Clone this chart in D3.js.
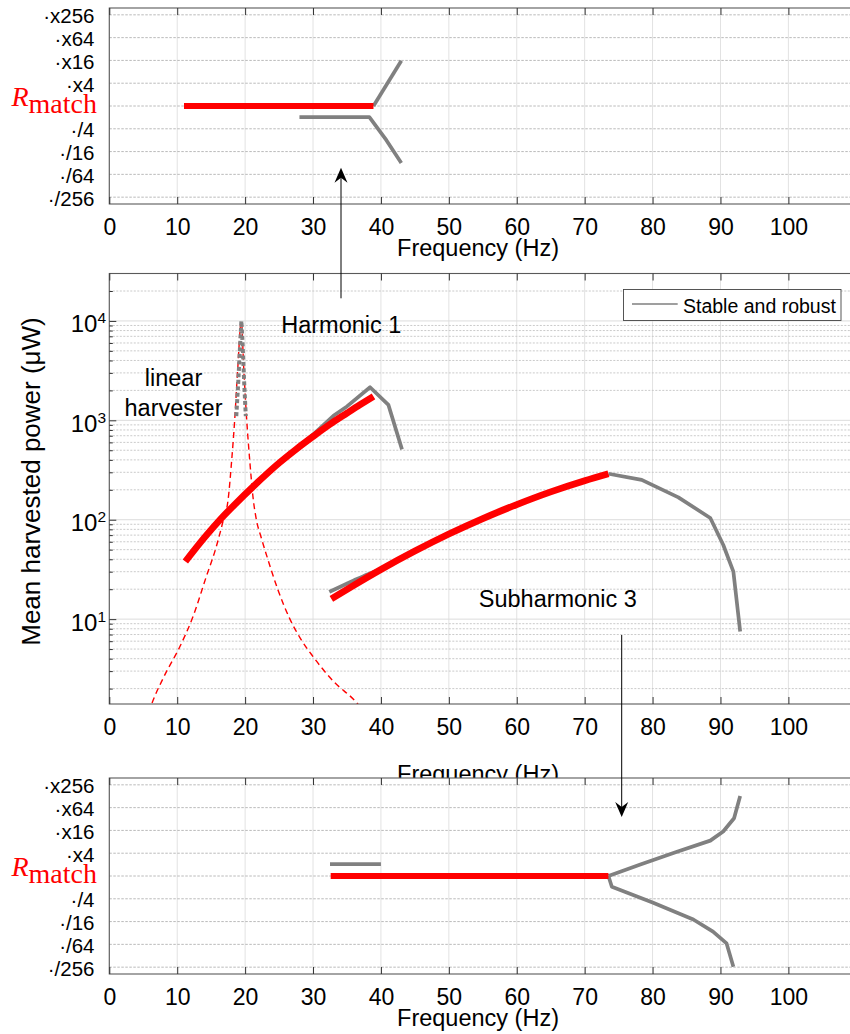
<!DOCTYPE html>
<html><head><meta charset="utf-8">
<script src="https://cdn.jsdelivr.net/npm/d3@7"></script>
<style>
body{margin:0;background:#fff}
svg{display:block}
text{font-family:"Liberation Sans",Arial,Helvetica,sans-serif;fill:#000}
</style>
</head><body>
<svg id="c" width="850" height="1034"></svg>
<script>
// ---------- tick values / labels ----------
const freqTicks = [0,10,20,30,40,50,60,70,80,90,100];
const ratioTicks = [256,64,16,4,1,1/4,1/16,1/64,1/256];
const ratioTickLabels = ["·x256","·x64","·x16","·x4","Rmatch","·/4","·/16","·/64","·/256"];
const powerTicks = [10,100,1000,10000];
const powerTickExp = ["1","2","3","4"];

// ---------- middle panel: mean harvested power (µW) ----------
const linearF = [5.8,6.24,8,10.4,12.3,14.3,15.7,16.8,17.5,18.0,18.5,18.9,19.45,19.8,20.2,20.7,21.2,21.6,22.4,23.2,24.8,26.6,28.2,30,33,36.2,37];
const linearP = [1.15,1.4,2.6,5.3,10.5,27,52,100,160,380,1100,3200,10000,3300,1100,380,160,105,65,43,20,10,6.3,4.2,2.37,1.5,1.3];
const linearPeakF = [18.7,19.0,19.25,19.45,19.65,19.85,20.1];
const linearPeakP = [1100,2500,5500,10000,5500,2500,1100];

const harm1RedF = [11.2,14,16.3,18.5,21.2,25,27.5,30,32.5,35,37,38.9];
const harm1RedP = [38,66,100,143,216,372,511,687,912,1180,1445,1740];
const harm1GrayF = [28,30,33,35,38.4,41.1,43.1];
const harm1GrayP = [550,720,1110,1380,2150,1430,510];

const sub3RedF = [32.7,36,40,45,50,55,60,65,70,73.5];
const sub3RedP = [16,21.9,31.6,48.4,71.8,102.8,142,190.6,246.7,290];
const sub3GrayLowF = [32.4,36,38,40];
const sub3GrayLowP = [18.8,24.5,28.2,31.8];
const sub3GrayHighF = [73.5,78.4,83.8,88.5,90.4,91.9,92.9];
const sub3GrayHighP = [290,252,168,104,56,30,7.5];

// ---------- top panel: load ratio, Harmonic 1 ----------
const h1RatioRedF = [11,38.9];
const h1RatioRedR = [1,1];
const h1RatioUpF = [38.9,43];
const h1RatioUpR = [1,15.6];
const h1RatioLowF = [28,38.3,40.8,43];
const h1RatioLowR = [0.51,0.51,0.125,0.031];

// ---------- bottom panel: load ratio, Subharmonic 3 ----------
const s3RatioRedF = [32.6,73.5];
const s3RatioRedR = [1,1];
const s3RatioShortF = [32.5,40];
const s3RatioShortR = [2.07,2.07];
const s3RatioUpF = [73.5,78.2,83.6,88.5,90.4,92.0,92.9];
const s3RatioUpR = [1,2,4.4,8.6,15,33.6,130];
const s3RatioLowF = [73.5,74.0,80,86.0,88.9,90.9,91.9];
const s3RatioLowR = [1,0.52,0.2,0.071,0.034,0.0165,0.004];

// ---------- layout ----------
const svg = d3.select("#c");
const X0 = 109.3, X1 = 856.3;
const x = d3.scaleLinear().domain([0,110]).range([X0,X1]);
const RED = "#ff0000", GRAY = "#808080";
const AX = "#5a5a5a";

const panels = {
  top: {y0:8, y1:204},
  mid: {y0:273.5, y1:704},
  bot: {y0:778, y1:974}
};
const yTop = d3.scaleLog().base(2).domain([Math.pow(2,-8.6),Math.pow(2,8.6)]).range([panels.top.y1,panels.top.y0]);
const yBot = d3.scaleLog().base(2).domain([Math.pow(2,-8.6),Math.pow(2,8.6)]).range([panels.bot.y1,panels.bot.y0]);
const yMid = d3.scaleLog().domain([1.4,30000]).range([panels.mid.y1,panels.mid.y0]);

const defs = svg.append("defs");
function clip(id,p){
  defs.append("clipPath").attr("id",id).append("rect")
    .attr("x",X0).attr("y",p.y0).attr("width",X1-X0).attr("height",p.y1-p.y0);
}
clip("cTop",panels.top); clip("cMid",panels.mid); clip("cBot",panels.bot);

function series(g, xs, ys, yScale, opts){
  const line = d3.line().x(d=>x(d[0])).y(d=>yScale(d[1]));
  if(opts.smooth) line.curve(d3.curveMonotoneX);
  g.append("path").datum(d3.zip(xs,ys)).attr("d",line)
    .attr("fill","none").attr("stroke",opts.color).attr("stroke-width",opts.w)
    .attr("stroke-dasharray",opts.dash||null)
    .attr("stroke-linejoin","round").attr("stroke-linecap",opts.cap||"butt");
}

function frame(p){
  const g = svg.append("g");
  g.append("rect").attr("x",X0).attr("y",p.y0).attr("width",X1-X0).attr("height",p.y1-p.y0).attr("fill","#fff");
  g.selectAll(".vg").data(freqTicks).enter().append("line")
    .attr("x1",d=>x(d)).attr("x2",d=>x(d)).attr("y1",p.y0).attr("y2",p.y1)
    .attr("stroke","#e2e2e2").attr("stroke-width",1);
  return g;
}
function box(g,p){
  g.append("rect").attr("x",X0).attr("y",p.y0).attr("width",X1-X0).attr("height",p.y1-p.y0)
    .attr("fill","none").attr("stroke",AX).attr("stroke-width",1.1);
  const ax = d3.axisBottom(x).tickValues(freqTicks).tickSize(-7).tickPadding(14.5).tickFormat(d3.format("d"));
  const a = g.append("g").attr("transform",`translate(0,${p.y1})`).call(ax);
  a.select(".domain").remove();
  a.selectAll(".tick line").attr("stroke","#333");
  a.selectAll(".tick text").attr("font-size",23).style("font-family",'"Liberation Sans",Arial,sans-serif').attr("fill","#000");
  const at = d3.axisTop(x).tickValues(freqTicks).tickSize(-7).tickFormat("");
  const b = g.append("g").attr("transform",`translate(0,${p.y0})`).call(at);
  b.select(".domain").remove();
  b.selectAll(".tick line").attr("stroke","#333");
}

function ratioPanel(p, yS, clipId, draw){
  const g = frame(p);
  g.selectAll(".hg").data(ratioTicks).enter().append("line")
    .attr("x1",X0).attr("x2",X1).attr("y1",d=>yS(d)).attr("y2",d=>yS(d))
    .attr("stroke","#b2b2b2").attr("stroke-width",0.9).attr("stroke-dasharray","2.5,1.5");
  const dg = g.append("g").attr("clip-path",`url(#${clipId})`);
  draw(dg);
  box(g,p);
  ratioTicks.forEach((v,i)=>{
    if(ratioTickLabels[i]==="Rmatch"){
      const t = g.append("text").attr("x",97).attr("y",yS(v)).attr("text-anchor","end").attr("fill",RED);
      t.append("tspan").text("R").attr("font-size",28).attr("font-style","italic")
        .style("font-family",'"Liberation Serif","Times New Roman",serif').attr("fill",RED);
      t.append("tspan").text("match").attr("font-size",28).attr("dy",7)
        .style("font-family",'"Liberation Serif","Times New Roman",serif').attr("fill",RED);
    } else {
      g.append("text").attr("x",94.5).attr("y",yS(v)+8.6).attr("text-anchor","end")
        .attr("font-size",20.5).text(ratioTickLabels[i]);
    }
  });
  g.append("text").attr("x",478).attr("y",p.y1+52).attr("text-anchor","middle")
    .attr("font-size",23.5).text("Frequency (Hz)");
  return g;
}

// ---------- TOP PANEL ----------
ratioPanel(panels.top, yTop, "cTop", dg=>{
  series(dg,h1RatioUpF,h1RatioUpR,yTop,{color:GRAY,w:3.7});
  series(dg,h1RatioLowF,h1RatioLowR,yTop,{color:GRAY,w:3.7});
  series(dg,h1RatioRedF,h1RatioRedR,yTop,{color:RED,w:6});
});

// ---------- MIDDLE PANEL ----------
(function(){
  const p = panels.mid;
  const g = frame(p);
  const minor = [];
  for(let k=0;k<=4;k++) for(let m=2;m<=9;m++){ const v=m*Math.pow(10,k); if(v>1.4 && v<30000) minor.push(v); }
  g.selectAll(".mg").data(minor).enter().append("line")
    .attr("x1",X0).attr("x2",X1).attr("y1",d=>yMid(d)).attr("y2",d=>yMid(d))
    .attr("stroke","#c4c4c4").attr("stroke-width",0.9).attr("stroke-dasharray","2,1.5");
  g.selectAll(".Mg").data(powerTicks).enter().append("line")
    .attr("x1",X0).attr("x2",X1).attr("y1",d=>yMid(d)).attr("y2",d=>yMid(d))
    .attr("stroke","#dcdcdc").attr("stroke-width",1);
  const dg = g.append("g").attr("clip-path","url(#cMid)");
  series(dg,linearF,linearP,yMid,{color:RED,w:1.4,dash:"6,4",smooth:true});
  series(dg,linearPeakF,linearPeakP,yMid,{color:GRAY,w:4,dash:"4,2.5"});
  series(dg,harm1GrayF,harm1GrayP,yMid,{color:GRAY,w:3.7});
  series(dg,sub3GrayLowF,sub3GrayLowP,yMid,{color:GRAY,w:3.7,smooth:true});
  series(dg,sub3GrayHighF,sub3GrayHighP,yMid,{color:GRAY,w:3.7});
  series(dg,harm1RedF,harm1RedP,yMid,{color:RED,w:6.8,smooth:true});
  series(dg,sub3RedF,sub3RedP,yMid,{color:RED,w:6.8,smooth:true});
  box(g,p);
  const ay = d3.axisLeft(yMid).tickValues(powerTicks).tickSize(-7).tickFormat("");
  const a = g.append("g").attr("transform",`translate(${X0},0)`).call(ay);
  a.select(".domain").remove(); a.selectAll(".tick line").attr("stroke","#333");
  const am = d3.axisLeft(yMid).tickValues(minor).tickSize(-3.5).tickFormat("");
  const a2 = g.append("g").attr("transform",`translate(${X0},0)`).call(am);
  a2.select(".domain").remove(); a2.selectAll(".tick line").attr("stroke","#333");
  powerTicks.forEach((v,i)=>{
    const t = g.append("text").attr("x",106).attr("y",yMid(v)+11.5).attr("text-anchor","end").attr("font-size",24);
    t.append("tspan").text("10");
    t.append("tspan").attr("dy",-9).attr("font-size",15.5).text(powerTickExp[i]);
  });
  g.append("text").attr("transform","translate(39.5,481.5) rotate(-90)").attr("text-anchor","middle")
    .attr("font-size",26).text("Mean harvested power (μW)");
  g.append("text").attr("x",478).attr("y",782).attr("text-anchor","middle")
    .attr("font-size",23.5).text("Frequency (Hz)");
  const lg = g.append("g");
  lg.append("rect").attr("x",623.5).attr("y",289.5).attr("width",217.5).attr("height",31)
    .attr("fill","#fff").attr("stroke","#444").attr("stroke-width",0.9);
  lg.append("line").attr("x1",632).attr("x2",677.7).attr("y1",304).attr("y2",304)
    .attr("stroke","#404040").attr("stroke-width",1.1);
  lg.append("text").attr("x",683).attr("y",312.5).attr("font-size",19.5).text("Stable and robust");
  g.append("text").attr("x",341.3).attr("y",333.3).attr("text-anchor","middle").attr("font-size",23.5).text("Harmonic 1");
  g.append("text").attr("x",173.5).attr("y",385.7).attr("text-anchor","middle").attr("font-size",23.5).text("linear");
  g.append("text").attr("x",173.5).attr("y",415.7).attr("text-anchor","middle").attr("font-size",23.5).text("harvester");
  g.append("text").attr("x",557.8).attr("y",606.7).attr("text-anchor","middle").attr("font-size",23.5).text("Subharmonic 3");
})();

// ---------- BOTTOM PANEL ----------
ratioPanel(panels.bot, yBot, "cBot", dg=>{
  series(dg,s3RatioShortF,s3RatioShortR,yBot,{color:GRAY,w:3.7});
  series(dg,s3RatioUpF,s3RatioUpR,yBot,{color:GRAY,w:3.7});
  series(dg,s3RatioLowF,s3RatioLowR,yBot,{color:GRAY,w:3.7});
  series(dg,s3RatioRedF,s3RatioRedR,yBot,{color:RED,w:6});
});

// ---------- arrows ----------
function arrow(xa, yStart, yTip){
  const dir = yTip < yStart ? -1 : 1;
  const L = 15, W = 6.5, N = 10;
  svg.append("line").attr("x1",xa).attr("x2",xa).attr("y1",yStart).attr("y2",yTip - dir*N)
    .attr("stroke","#000").attr("stroke-width",1);
  svg.append("path").attr("d",`M${xa},${yTip} L${xa-W},${yTip-dir*L} L${xa},${yTip-dir*N} L${xa+W},${yTip-dir*L} Z`)
    .attr("fill","#000");
}
arrow(341, 298.3, 167.7);
arrow(621.7, 635, 817);
</script>
</body></html>
